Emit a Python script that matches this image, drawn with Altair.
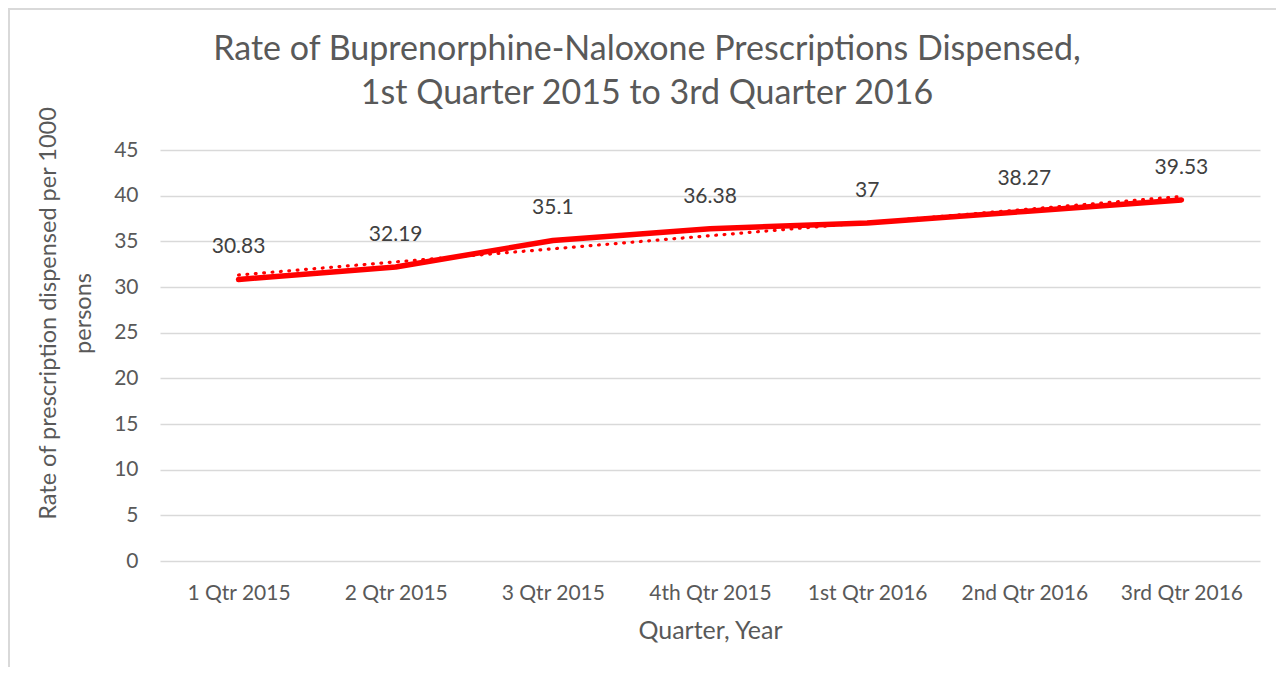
import altair as alt
import pandas as pd

categories = ["1 Qtr 2015", "2 Qtr 2015", "3 Qtr 2015", "4th Qtr 2015",
              "1st Qtr 2016", "2nd Qtr 2016", "3rd Qtr 2016"]
rates = [30.83, 32.19, 35.1, 36.38, 37, 38.27, 39.53]
y_ticks = [0, 5, 10, 15, 20, 25, 30, 35, 40, 45]

df = pd.DataFrame({
    "idx": list(range(1, len(categories) + 1)),
    "category": categories,
    "rate": rates,
})

FONT = "Lato"
RED = "#FF0000"
GRAY_TEXT = "#595959"

label_expr = "[" + ",".join("'" + c + "'" for c in categories) + "][datum.value - 1]"

x_enc = alt.X(
    "idx:Q",
    scale=alt.Scale(domain=[0.5, len(categories) + 0.5], nice=False, zero=False),
    axis=alt.Axis(
        values=list(range(1, len(categories) + 1)),
        labelExpr=label_expr,
        grid=False, domain=False, ticks=False,
        labelFont=FONT, labelFontSize=21, labelColor=GRAY_TEXT, labelPadding=21,
        title="Quarter, Year", titleFont=FONT, titleFontSize=25, titleFontWeight="normal",
        titleColor=GRAY_TEXT, titlePadding=15,
    ),
)
y_enc = alt.Y(
    "rate:Q",
    scale=alt.Scale(domain=[0, 45], nice=False),
    axis=alt.Axis(
        values=y_ticks, grid=True, gridColor="#D9D9D9", gridWidth=1.3,
        domain=False, ticks=False,
        labelFont=FONT, labelFontSize=21, labelColor=GRAY_TEXT, labelPadding=22,
        title=["Rate of prescription dispensed per 1000", "persons"],
        titleFont=FONT, titleFontSize=23.5, titleFontWeight="normal", titleColor=GRAY_TEXT,
        titleAngle=270, titleAlign="center", titleBaseline="middle",
        titleLineHeight=35, titleX=-112, titleY=163,
    ),
)

base = alt.Chart(df)

line = base.mark_line(color=RED, strokeWidth=5.5, strokeCap="round", strokeJoin="round").encode(
    x=x_enc, y=y_enc
)

trend = base.transform_regression(
    "idx", "rate", method="linear", extent=[1, len(categories)]
).mark_line(color=RED, strokeWidth=3.2, strokeDash=[0.8, 7.6], strokeCap="round").encode(
    x="idx:Q", y="rate:Q"
)

labels = base.mark_text(font=FONT, fontSize=21, color="#404040", dy=-32, baseline="middle").encode(
    x="idx:Q", y="rate:Q", text=alt.Text("rate:Q")
)

border_v = alt.Chart().mark_rule(color="#D9D9D9", strokeWidth=2).encode(
    x=alt.value(-151), y=alt.value(-142), y2=alt.value(520)
)
border_h = alt.Chart().mark_rule(color="#D9D9D9", strokeWidth=2).encode(
    x=alt.value(-152), x2=alt.value(1120), y=alt.value(-141)
)

chart = alt.layer(line, trend, labels, border_v, border_h).properties(
    width=1100,
    height=411,
    autosize=alt.AutoSizeParams(type="none"),
    padding={"left": 152, "top": 142, "right": 16, "bottom": 106},
    title=alt.TitleParams(
        text=["Rate of Buprenorphine-Naloxone Prescriptions Dispensed,",
              "1st Quarter 2015 to 3rd Quarter 2016"],
        font=FONT, fontSize=34, fontWeight="normal", color=GRAY_TEXT,
        anchor="middle", frame="group", lineHeight=44, dx=-63, offset=0,
        baseline="alphabetic", dy=131,
    ),
).configure_view(stroke=None)

chart.save("out.html", embed_options={"renderer": "svg", "actions": False})
